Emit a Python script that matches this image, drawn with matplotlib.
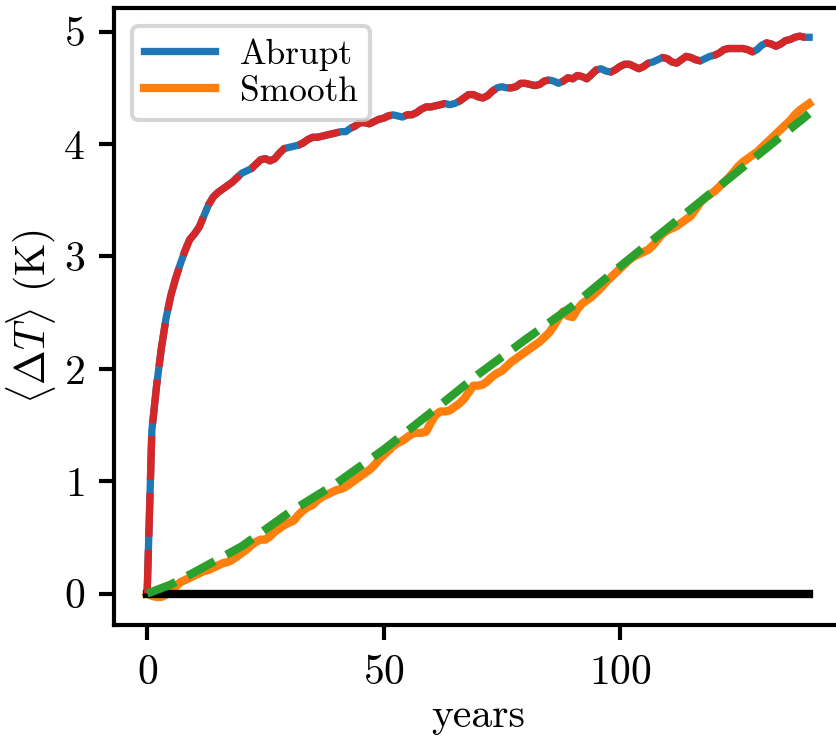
import numpy as np
import matplotlib
matplotlib.use("Agg")
import matplotlib.pyplot as plt

plt.rcParams['font.family'] = 'serif'
plt.rcParams['font.serif'] = ['cmr10']
plt.rcParams['mathtext.fontset'] = 'cm'
plt.rcParams['axes.formatter.use_mathtext'] = True
plt.rcParams['font.size'] = 10

years = np.arange(0, 141)

# global mean warming after an abrupt forcing step
abrupt = [
    0.00, 1.45, 1.85, 2.18, 2.45, 2.65, 2.80, 2.93, 3.05, 3.15,
    3.20, 3.26, 3.36, 3.46, 3.53, 3.57, 3.60, 3.63, 3.66, 3.70,
    3.74, 3.76, 3.78, 3.82, 3.86, 3.87, 3.85, 3.87, 3.92, 3.96,
    3.97, 3.98, 3.99, 4.01, 4.04, 4.06, 4.06, 4.07, 4.08, 4.09,
    4.10, 4.11, 4.11, 4.14, 4.16, 4.19, 4.19, 4.18, 4.20, 4.22,
    4.23, 4.25, 4.26, 4.25, 4.24, 4.26, 4.26, 4.28, 4.31, 4.33,
    4.33, 4.34, 4.35, 4.36, 4.35, 4.36, 4.38, 4.41, 4.44, 4.44,
    4.42, 4.41, 4.43, 4.47, 4.50, 4.51, 4.50, 4.50, 4.51, 4.54,
    4.54, 4.53, 4.52, 4.53, 4.56, 4.57, 4.56, 4.54, 4.56, 4.59,
    4.58, 4.61, 4.60, 4.58, 4.62, 4.66, 4.67, 4.65, 4.64, 4.66,
    4.69, 4.71, 4.71, 4.69, 4.67, 4.69, 4.72, 4.73, 4.75, 4.77,
    4.76, 4.73, 4.72, 4.75, 4.78, 4.77, 4.75, 4.74, 4.76, 4.78,
    4.79, 4.81, 4.84, 4.85, 4.85, 4.85, 4.85, 4.84, 4.82, 4.84,
    4.88, 4.90, 4.89, 4.87, 4.89, 4.92, 4.93, 4.95, 4.96, 4.95,
    4.95,
]

# warming under a gradually increasing forcing
smooth = [
    0.00, -0.02, -0.03, -0.03, -0.01, 0.02, 0.06, 0.10, 0.12, 0.14,
    0.16, 0.18, 0.20, 0.21, 0.23, 0.25, 0.27, 0.28, 0.30, 0.33,
    0.36, 0.39, 0.43, 0.46, 0.48, 0.48, 0.51, 0.55, 0.58, 0.61,
    0.63, 0.65, 0.70, 0.74, 0.77, 0.79, 0.83, 0.86, 0.88, 0.90,
    0.92, 0.93, 0.95, 0.98, 1.01, 1.04, 1.07, 1.10, 1.14, 1.19,
    1.23, 1.27, 1.31, 1.34, 1.36, 1.39, 1.42, 1.43, 1.43, 1.44,
    1.52, 1.59, 1.62, 1.62, 1.63, 1.66, 1.69, 1.73, 1.79, 1.85,
    1.85, 1.86, 1.89, 1.93, 1.96, 1.98, 2.02, 2.06, 2.09, 2.12,
    2.15, 2.18, 2.21, 2.24, 2.28, 2.32, 2.38, 2.45, 2.51, 2.47,
    2.46, 2.53, 2.58, 2.61, 2.64, 2.68, 2.72, 2.77, 2.81, 2.85,
    2.89, 2.93, 2.97, 3.00, 3.02, 3.04, 3.06, 3.10, 3.15, 3.20,
    3.23, 3.25, 3.27, 3.30, 3.33, 3.36, 3.42, 3.48, 3.52, 3.55,
    3.58, 3.62, 3.66, 3.70, 3.75, 3.80, 3.84, 3.87, 3.90, 3.93,
    3.97, 4.01, 4.05, 4.09, 4.13, 4.17, 4.21, 4.26, 4.30, 4.33,
    4.36,
]

# emulated response to the gradual forcing
emu_years = [0, 5, 10, 20, 30, 40, 50, 60, 70, 80, 90, 100, 110, 120, 130, 140]
emu_smooth = [0.00, 0.08, 0.19, 0.42, 0.72, 0.98, 1.28, 1.61, 1.95, 2.26,
              2.56, 2.91, 3.25, 3.59, 3.93, 4.27]

fig = plt.figure(figsize=(836 / 300, 737 / 300), dpi=300)
ax = fig.add_axes([0.1364, 0.152, 0.871, 0.837])

ax.plot(years, abrupt, color='tab:blue', lw=1.75, label='Abrupt')
ax.plot(years, smooth, color='tab:orange', lw=2, label='Smooth')
ax.plot(years, np.zeros(len(years)), color='k', lw=2)
ax.plot(years, abrupt, color='tab:red', lw=1.75, dashes=(6, 1.8))
ax.plot(emu_years, emu_smooth, color='tab:green', lw=2, ls='--')

ax.set_xticks([0, 50, 100])
ax.set_yticks([0, 1, 2, 3, 4, 5])
ax.set_xlabel('years', labelpad=1.5)
ax.set_ylabel(r'$\langle \Delta T \rangle$ (K)', labelpad=1)
ax.tick_params(width=1.0, length=3.5)
for s in ax.spines.values():
    s.set_linewidth(1.0)

ax.legend(loc='upper left', fontsize=8.5, labelspacing=0.15,
          handlelength=2.0, handletextpad=0.7, borderpad=0.35)

fig.savefig('out.png', dpi=300)
